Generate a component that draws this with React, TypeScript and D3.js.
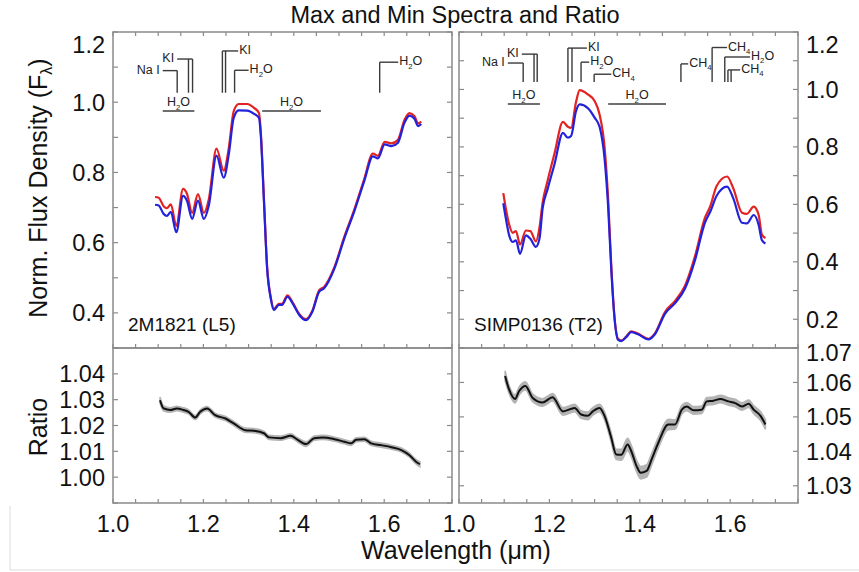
import React from "react";
import * as d3 from "d3";

const W = 859;
const H = 572;

// ---------- data: 2M1821 (L5) ----------
const l5Wave = [1.093, 1.101, 1.112, 1.119, 1.128, 1.14, 1.155, 1.164, 1.175, 1.188, 1.201, 1.212, 1.229, 1.245, 1.256, 1.267, 1.278, 1.297, 1.312, 1.323, 1.327, 1.334, 1.341, 1.349, 1.356, 1.367, 1.374, 1.386, 1.397, 1.412, 1.427, 1.441, 1.456, 1.467, 1.49, 1.512, 1.534, 1.556, 1.575, 1.586, 1.601, 1.616, 1.63, 1.645, 1.656, 1.667, 1.675, 1.682];
const l5Max = [0.73, 0.728, 0.704, 0.698, 0.709, 0.648, 0.753, 0.738, 0.685, 0.738, 0.685, 0.724, 0.868, 0.805, 0.868, 0.974, 0.995, 0.995, 0.984, 0.969, 0.916, 0.724, 0.531, 0.445, 0.411, 0.426, 0.426, 0.45, 0.431, 0.397, 0.382, 0.406, 0.464, 0.474, 0.531, 0.618, 0.695, 0.782, 0.854, 0.847, 0.887, 0.883, 0.892, 0.95, 0.969, 0.96, 0.94, 0.945];
const l5Min = [0.708, 0.706, 0.682, 0.676, 0.688, 0.63, 0.733, 0.718, 0.668, 0.72, 0.668, 0.706, 0.848, 0.785, 0.85, 0.955, 0.977, 0.976, 0.967, 0.955, 0.905, 0.716, 0.526, 0.441, 0.408, 0.423, 0.423, 0.446, 0.428, 0.394, 0.379, 0.403, 0.46, 0.47, 0.527, 0.613, 0.69, 0.776, 0.846, 0.84, 0.88, 0.875, 0.884, 0.942, 0.962, 0.953, 0.932, 0.938];

const l5RatioWave = [1.104, 1.112, 1.127, 1.141, 1.156, 1.167, 1.182, 1.193, 1.208, 1.226, 1.249, 1.267, 1.293, 1.312, 1.334, 1.345, 1.371, 1.393, 1.408, 1.427, 1.445, 1.464, 1.49, 1.512, 1.527, 1.538, 1.556, 1.571, 1.593, 1.616, 1.638, 1.656, 1.671, 1.679];
const l5Ratio = [1.0298, 1.0266, 1.026, 1.0266, 1.026, 1.0253, 1.0231, 1.0253, 1.0266, 1.024, 1.0227, 1.0208, 1.0182, 1.018, 1.017, 1.0154, 1.0151, 1.016, 1.0145, 1.0128, 1.0151, 1.0154, 1.0147, 1.0137, 1.0131, 1.0145, 1.0147, 1.0131, 1.0124, 1.0116, 1.0105, 1.0085, 1.0059, 1.005];
const l5RatioErr = [0.0012, 0.001, 0.0009, 0.0009, 0.0009, 0.0008, 0.0008, 0.0008, 0.0008, 0.0008, 0.0008, 0.0008, 0.0008, 0.0008, 0.0008, 0.0008, 0.0008, 0.0008, 0.0008, 0.0009, 0.0008, 0.0008, 0.0008, 0.0008, 0.0008, 0.0008, 0.0008, 0.0008, 0.0008, 0.0008, 0.0008, 0.0008, 0.0009, 0.001];

// ---------- data: SIMP0136 (T2) ----------
const t2Wave = [1.098, 1.104, 1.111, 1.119, 1.126, 1.135, 1.148, 1.158, 1.17, 1.178, 1.185, 1.196, 1.211, 1.23, 1.241, 1.248, 1.259, 1.267, 1.285, 1.3, 1.311, 1.322, 1.33, 1.337, 1.344, 1.352, 1.359, 1.37, 1.381, 1.396, 1.419, 1.433, 1.456, 1.478, 1.5, 1.522, 1.544, 1.556, 1.57, 1.593, 1.607, 1.626, 1.637, 1.652, 1.663, 1.67, 1.678];
const t2Max = [0.639, 0.582, 0.53, 0.501, 0.507, 0.46, 0.509, 0.507, 0.471, 0.519, 0.606, 0.682, 0.775, 0.887, 0.87, 0.866, 0.957, 0.998, 0.983, 0.96, 0.913, 0.8, 0.618, 0.384, 0.208, 0.132, 0.126, 0.14, 0.158, 0.15, 0.132, 0.15, 0.226, 0.264, 0.317, 0.419, 0.553, 0.594, 0.664, 0.697, 0.655, 0.571, 0.567, 0.592, 0.563, 0.495, 0.483];
const t2Min = [0.604, 0.548, 0.492, 0.469, 0.475, 0.428, 0.492, 0.48, 0.452, 0.48, 0.586, 0.653, 0.738, 0.849, 0.832, 0.838, 0.925, 0.948, 0.935, 0.902, 0.87, 0.76, 0.59, 0.37, 0.205, 0.128, 0.124, 0.138, 0.155, 0.148, 0.13, 0.147, 0.22, 0.256, 0.307, 0.405, 0.536, 0.575, 0.63, 0.662, 0.62, 0.536, 0.534, 0.563, 0.528, 0.476, 0.464];

const t2RatioWave = [1.102, 1.111, 1.124, 1.133, 1.147, 1.163, 1.185, 1.207, 1.23, 1.256, 1.27, 1.285, 1.296, 1.311, 1.322, 1.336, 1.348, 1.359, 1.373, 1.381, 1.393, 1.402, 1.415, 1.426, 1.441, 1.463, 1.478, 1.493, 1.504, 1.519, 1.537, 1.548, 1.563, 1.578, 1.596, 1.611, 1.626, 1.641, 1.652, 1.667, 1.678];
const t2Ratio = [1.0619, 1.0579, 1.0552, 1.0575, 1.059, 1.0555, 1.0542, 1.0557, 1.0516, 1.0526, 1.0507, 1.0503, 1.0516, 1.0526, 1.0503, 1.0444, 1.0391, 1.039, 1.042, 1.0401, 1.0357, 1.0338, 1.0343, 1.0376, 1.0425, 1.0478, 1.0478, 1.0521, 1.053, 1.0519, 1.0521, 1.0545, 1.0547, 1.0552, 1.0545, 1.054, 1.053, 1.0538, 1.0521, 1.0503, 1.0478];
const t2RatioErr = [0.0015, 0.0012, 0.0012, 0.0012, 0.0012, 0.0011, 0.0011, 0.0011, 0.0011, 0.0011, 0.0011, 0.0011, 0.0011, 0.0011, 0.0012, 0.0014, 0.0015, 0.0016, 0.0018, 0.0017, 0.0017, 0.0018, 0.0018, 0.0017, 0.0016, 0.0015, 0.0014, 0.0013, 0.0012, 0.0011, 0.0011, 0.0011, 0.0011, 0.0011, 0.0011, 0.0011, 0.0011, 0.0011, 0.0012, 0.0013, 0.0014];

// ---------- feature annotations (wavelength, flux-level) ----------
const l5Features = [
  { label: "Na I", lines: [1.142], top: 1.09, arm: 1.11 },
  { label: "KI", lines: [1.167, 1.176], top: 1.123, arm: 1.142 },
  { label: "KI", lines: [1.242, 1.249], top: 1.146, arm: 1.277 },
  { label: "H2O", lines: [1.269], top: 1.091, arm: 1.3 },
  { label: "H2O", lines: [1.59], top: 1.114, arm: 1.631 },
];
const l5FeatureBase = 1.027;
const l5Bands = [
  { label: "H2O", from: 1.11, to: 1.18, y: 0.975 },
  { label: "H2O", from: 1.33, to: 1.46, y: 0.975 },
];

const t2Features = [
  { label: "Na I", lines: [1.142], top: 1.092, arm: 1.108 },
  { label: "KI", lines: [1.166, 1.173], top: 1.123, arm: 1.139 },
  { label: "KI", lines: [1.241, 1.25], top: 1.144, arm: 1.283 },
  { label: "H2O", lines: [1.27], top: 1.095, arm: 1.288 },
  { label: "CH4", lines: [1.299], top: 1.053, arm: 1.337 },
  { label: "CH4", lines: [1.491], top: 1.089, arm: 1.507 },
  { label: "CH4", lines: [1.56], top: 1.146, arm: 1.593 },
  { label: "H2O", lines: [1.588], top: 1.113, arm: 1.644 },
  { label: "CH4", lines: [1.595, 1.602], top: 1.068, arm: 1.622 },
];
const t2FeatureBase = 1.026;
const t2Bands = [
  { label: "H2O", from: 1.108, to: 1.179, y: 0.949 },
  { label: "H2O", from: 1.33, to: 1.458, y: 0.949 },
];

// ---------- axis labels ----------
const xLabelTicks = [1.0, 1.2, 1.4, 1.6];
const l5FluxLabels = [0.4, 0.6, 0.8, 1.0, 1.2];
const t2FluxLabels = [0.2, 0.4, 0.6, 0.8, 1.0, 1.2];
const l5RatioLabels = [1.0, 1.01, 1.02, 1.03, 1.04];
const t2RatioLabels = [1.03, 1.04, 1.05, 1.06, 1.07];

const FONT = "'Liberation Sans', Arial, Helvetica, sans-serif";
const FRAME = "#8a8a8a";
const ANN = 12.5;

function steps(a: number, b: number, s: number) {
  const n = Math.round((b - a) / s);
  return d3.range(0, n + 1).map((i) => +(a + i * s).toFixed(5));
}

function Label({ text, size }: { text: string; size: number }) {
  const parts = text.split(/(\d)/).filter((p) => p !== "");
  return (
    <>
      {parts.map((p, i) =>
        /\d/.test(p) ? (
          <tspan key={i} fontSize={size * 0.62} dy={size * 0.28}>
            {p}
          </tspan>
        ) : (
          <tspan key={i} dy={i > 0 && /\d/.test(parts[i - 1]) ? -size * 0.28 : 0}>
            {p}
          </tspan>
        )
      )}
    </>
  );
}

type Feature = { label: string; lines: number[]; top: number; arm: number };
type Band = { label: string; from: number; to: number; y: number };

function FluxPanel(props: {
  left: number;
  right: number;
  top: number;
  bottom: number;
  yDomain: [number, number];
  wave: number[];
  vmax: number[];
  vmin: number[];
  features: Feature[];
  base: number;
  bands: Band[];
  name: string;
}) {
  const { left, right, top, bottom, yDomain, wave, vmax, vmin, features, base, bands, name } = props;
  const x = d3.scaleLinear().domain([1.0, 1.75]).range([left, right]);
  const y = d3.scaleLinear().domain(yDomain).range([bottom, top]);
  const line = (vals: number[]) =>
    d3
      .line<number>()
      .x((_, i) => x(wave[i]))
      .y((d) => y(d))
      .curve(d3.curveMonotoneX)(vals) as string;
  const xt = steps(1.0, 1.75, 0.05);
  const yt = steps(Math.ceil(yDomain[0] * 10 - 1e-6) / 10, yDomain[1], 0.1);
  const annColor = "#3a3a3a";
  return (
    <g>
      {features.map((f, i) => {
        const armLeft = f.arm < f.lines[0];
        const yt0 = y(f.top);
        return (
          <g key={i}>
            {f.lines.map((l, j) => (
              <line key={j} x1={x(l)} x2={x(l)} y1={yt0} y2={y(base)} stroke={annColor} strokeWidth={1.4} />
            ))}
            <line
              x1={armLeft ? x(f.arm) : x(f.lines[0])}
              x2={armLeft ? x(f.lines[f.lines.length - 1]) : x(f.arm)}
              y1={yt0}
              y2={yt0}
              stroke={annColor}
              strokeWidth={1.4}
            />
            <text
              x={armLeft ? x(f.arm) - 3 : x(f.arm) + 1}
              y={yt0 + 3}
              textAnchor={armLeft ? "end" : "start"}
              fontSize={ANN}
              fontFamily={FONT}
              fill="#222"
            >
              <Label text={f.label} size={ANN} />
            </text>
          </g>
        );
      })}
      {bands.map((b, i) => (
        <g key={i}>
          <line x1={x(b.from)} x2={x(b.to)} y1={y(b.y)} y2={y(b.y)} stroke="#6e6e6e" strokeWidth={2} />
          <text x={x((b.from + b.to) / 2)} y={y(b.y) - 5} textAnchor="middle" fontSize={ANN} fontFamily={FONT} fill="#222">
            <Label text={b.label} size={ANN} />
          </text>
        </g>
      ))}
      <path d={line(vmax)} fill="none" stroke="#e32222" strokeWidth={2.2} />
      <path d={line(vmin)} fill="none" stroke="#2222dd" strokeWidth={2.2} />
      <text x={left + 15} y={331} fontSize={19} fontFamily={FONT} fill="#111">
        {name}
      </text>
      {xt.map((t, i) => (
        <g key={"x" + i}>
          <line x1={x(t)} x2={x(t)} y1={bottom} y2={bottom - 4} stroke={FRAME} strokeWidth={1.2} />
          <line x1={x(t)} x2={x(t)} y1={top} y2={top + 4} stroke={FRAME} strokeWidth={1.2} />
        </g>
      ))}
      {yt.map((t, i) => (
        <g key={"y" + i}>
          <line x1={left} x2={left + 5} y1={y(t)} y2={y(t)} stroke={FRAME} strokeWidth={1.2} />
          <line x1={right} x2={right - 5} y1={y(t)} y2={y(t)} stroke={FRAME} strokeWidth={1.2} />
        </g>
      ))}
      <rect x={left} y={top} width={right - left} height={bottom - top} fill="none" stroke={FRAME} strokeWidth={1.5} />
    </g>
  );
}

function RatioPanel(props: {
  left: number;
  right: number;
  top: number;
  bottom: number;
  yDomain: [number, number];
  wave: number[];
  ratio: number[];
  err: number[];
}) {
  const { left, right, top, bottom, yDomain, wave, ratio, err } = props;
  const x = d3.scaleLinear().domain([1.0, 1.75]).range([left, right]);
  const y = d3.scaleLinear().domain(yDomain).range([bottom, top]);
  const area = d3
    .area<number>()
    .x((_, i) => x(wave[i]))
    .y0((d, i) => y(d - err[i]))
    .y1((d, i) => y(d + err[i]))
    .curve(d3.curveMonotoneX)(ratio) as string;
  const line = d3
    .line<number>()
    .x((_, i) => x(wave[i]))
    .y((d) => y(d))
    .curve(d3.curveMonotoneX)(ratio) as string;
  const xt = steps(1.0, 1.75, 0.05);
  const yt = steps(Math.ceil(yDomain[0] * 100 - 1e-6) / 100, yDomain[1], 0.01);
  return (
    <g>
      <path d={area} fill="#b4b4b4" stroke="#b4b4b4" strokeWidth={1.5} />
      <path d={line} fill="none" stroke="#111" strokeWidth={2} />
      {xt.map((t, i) => (
        <line key={"x" + i} x1={x(t)} x2={x(t)} y1={bottom} y2={bottom - 4} stroke={FRAME} strokeWidth={1.2} />
      ))}
      {yt.map((t, i) => (
        <g key={"y" + i}>
          <line x1={left} x2={left + 5} y1={y(t)} y2={y(t)} stroke={FRAME} strokeWidth={1.2} />
          <line x1={right} x2={right - 5} y1={y(t)} y2={y(t)} stroke={FRAME} strokeWidth={1.2} />
        </g>
      ))}
      <rect x={left} y={top} width={right - left} height={bottom - top} fill="none" stroke={FRAME} strokeWidth={1.5} />
    </g>
  );
}

export default function App() {
  const L = { left: 113, right: 452 };
  const R = { left: 459, right: 798 };
  const topY = 32;
  const midY = 348;
  const botY = 503;

  const xL = d3.scaleLinear().domain([1.0, 1.75]).range([L.left, L.right]);
  const xR = d3.scaleLinear().domain([1.0, 1.75]).range([R.left, R.right]);
  const yFL = d3.scaleLinear().domain([0.3, 1.2]).range([midY, topY]);
  const yFR = d3.scaleLinear().domain([0.1, 1.2]).range([midY, topY]);
  const yRL = d3.scaleLinear().domain([0.99, 1.05]).range([botY, midY]);
  const yRR = d3.scaleLinear().domain([1.025, 1.07]).range([botY, midY]);

  const f1 = d3.format(".1f");
  const f2 = d3.format(".2f");
  const tickFont = 23.5;

  return (
    <svg
      width={W}
      height={H}
      viewBox={`0 0 ${W} ${H}`}
      style={{ position: "absolute", left: 0, top: 0, background: "#fff" }}
      fontFamily={FONT}
    >
      <rect x={0} y={0} width={W} height={H} fill="#fff" />
      <line x1={10} x2={10} y1={506} y2={570} stroke="#dcdcdc" strokeWidth={1} />
      <line x1={10} x2={W} y1={570} y2={570} stroke="#dcdcdc" strokeWidth={1} />

      <text x={455} y={23} textAnchor="middle" fontSize={23.5} fill="#111">
        Max and Min Spectra and Ratio
      </text>

      <FluxPanel
        left={L.left}
        right={L.right}
        top={topY}
        bottom={midY}
        yDomain={[0.3, 1.2]}
        wave={l5Wave}
        vmax={l5Max}
        vmin={l5Min}
        features={l5Features}
        base={l5FeatureBase}
        bands={l5Bands}
        name="2M1821 (L5)"
      />
      <FluxPanel
        left={R.left}
        right={R.right}
        top={topY}
        bottom={midY}
        yDomain={[0.1, 1.2]}
        wave={t2Wave}
        vmax={t2Max}
        vmin={t2Min}
        features={t2Features}
        base={t2FeatureBase}
        bands={t2Bands}
        name="SIMP0136 (T2)"
      />
      <RatioPanel left={L.left} right={L.right} top={midY} bottom={botY} yDomain={[0.99, 1.05]} wave={l5RatioWave} ratio={l5Ratio} err={l5RatioErr} />
      <RatioPanel left={R.left} right={R.right} top={midY} bottom={botY} yDomain={[1.025, 1.07]} wave={t2RatioWave} ratio={t2Ratio} err={t2RatioErr} />

      {l5FluxLabels.map((v, i) => (
        <text key={"lf" + i} x={105} y={Math.max(yFL(v), topY + 13)} dy="0.36em" textAnchor="end" fontSize={tickFont} fill="#111">
          {f1(v)}
        </text>
      ))}
      {l5RatioLabels.map((v, i) => (
        <text key={"lr" + i} x={105} y={yRL(v)} dy="0.36em" textAnchor="end" fontSize={tickFont} fill="#111">
          {f2(v)}
        </text>
      ))}
      {t2FluxLabels.map((v, i) => (
        <text key={"rf" + i} x={806} y={Math.max(yFR(v), topY + 13)} dy="0.36em" textAnchor="start" fontSize={tickFont} fill="#111">
          {f1(v)}
        </text>
      ))}
      {t2RatioLabels.map((v, i) => (
        <text key={"rr" + i} x={806} y={Math.max(yRR(v), midY + 5)} dy="0.36em" textAnchor="start" fontSize={tickFont} fill="#111">
          {f2(v)}
        </text>
      ))}
      {xLabelTicks.map((v, i) => (
        <text key={"xl" + i} x={xL(v)} y={532} textAnchor="middle" fontSize={tickFont} fill="#111">
          {f1(v)}
        </text>
      ))}
      {xLabelTicks.map((v, i) => (
        <text key={"xr" + i} x={xR(v)} y={532} textAnchor="middle" fontSize={tickFont} fill="#111">
          {f1(v)}
        </text>
      ))}
      <text x={456} y={559} textAnchor="middle" fontSize={25} fill="#111">
        Wavelength (μm)
      </text>
      <text transform="translate(47,188) rotate(-90)" textAnchor="middle" fontSize={25} fill="#111">
        Norm. Flux Density (F<tspan fontSize={16} dy={5}>λ</tspan>
        <tspan dy={-5}>)</tspan>
      </text>
      <text transform="translate(47,427) rotate(-90)" textAnchor="middle" fontSize={25} fill="#111">
        Ratio
      </text>
    </svg>
  );
}
